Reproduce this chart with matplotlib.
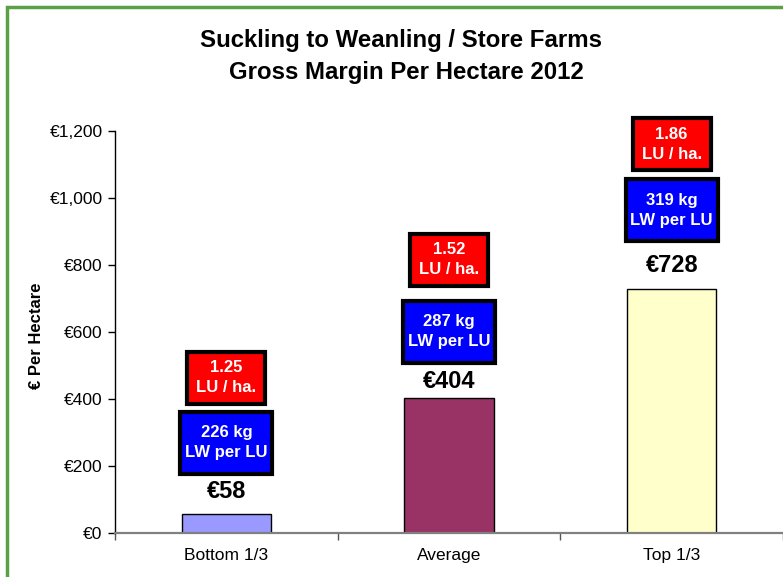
import matplotlib
matplotlib.use("Agg")
import matplotlib.pyplot as plt
from matplotlib.patches import Rectangle
from matplotlib.path import Path
from matplotlib.ticker import FuncFormatter

# chart values
groups = ["Bottom 1/3", "Average", "Top 1/3"]
gross_margin = [58, 404, 728]
lw_per_lu = [226, 287, 319]
lu_per_ha = [1.25, 1.52, 1.86]

bar_colors = ["#9999FF", "#993366", "#FFFFCC"]

# manual label offsets above each bar (pixels), like hand-placed text boxes
value_off = [22, 16, 24]
blue_off = [71, 66, 79]
red_off = [136, 138, 145]

plt.rcParams["font.family"] = ["Liberation Sans", "DejaVu Sans"]


def _euro(x, pos):
    return f"€{x:,.0f}"


def fixed_box(w, h):
    # text-box style of a fixed size (pixels), centred on the text
    def _style(x0, y0, width, height, mutation_size):
        cx, cy = x0 + width / 2, y0 + height / 2
        pts = [(cx - w / 2, cy - h / 2), (cx + w / 2, cy - h / 2),
               (cx + w / 2, cy + h / 2), (cx - w / 2, cy + h / 2),
               (cx - w / 2, cy - h / 2)]
        return Path(pts, closed=True)
    return _style


fig = plt.figure(figsize=(7.83, 5.77), dpi=100)
ax = fig.add_axes([115 / 783, 1 - 533 / 577, 1 - 115 / 783, (533 - 131) / 577])

xs = range(len(groups))
ax.bar(xs, gross_margin, width=0.4, color=bar_colors, edgecolor="black", linewidth=1)

ax.set_xlim(-0.5, 2.5)
ax.set_ylim(0, 1200)
ax.set_yticks(range(0, 1201, 200))
ax.yaxis.set_major_formatter(FuncFormatter(_euro))
ax.tick_params(axis="y", direction="out", length=5, width=1, labelsize=12.5, pad=4)

ax.set_xticks(list(xs))
ax.set_xticklabels(groups, fontsize=12.5)
ax.tick_params(axis="x", which="major", length=0, pad=11)
ax.set_xticks([-0.5, 0.5, 1.5, 2.5], minor=True)
ax.tick_params(axis="x", which="minor", direction="out", length=5, width=1, color="#555555")

for side in ["top", "right"]:
    ax.spines[side].set_visible(False)
ax.spines["left"].set_color("black")
ax.spines["left"].set_linewidth(1)
ax.spines["bottom"].set_color("#808080")
ax.spines["bottom"].set_linewidth(1.6)

ax.set_ylabel("€ Per Hectare", fontsize=12, fontweight="bold")
ax.yaxis.set_label_coords(-0.107, 0.49)

for i, v in enumerate(gross_margin):
    ax.annotate(f"€{v}", (i, v), xytext=(0, value_off[i]), textcoords="offset pixels",
                ha="center", va="center", fontsize=17, fontweight="bold")
    ax.annotate(f"{lw_per_lu[i]} kg\nLW per LU", (i, v), xytext=(0, blue_off[i]),
                textcoords="offset pixels", ha="center", va="center", fontsize=12,
                fontweight="bold", color="white", linespacing=1.4,
                bbox=dict(boxstyle=fixed_box(92, 62), fc="#0000FF", ec="black", lw=3))
    ax.annotate(f"{lu_per_ha[i]:.2f}\nLU / ha.", (i, v), xytext=(0, red_off[i]),
                textcoords="offset pixels", ha="center", va="center", fontsize=12,
                fontweight="bold", color="white", linespacing=1.4,
                bbox=dict(boxstyle=fixed_box(78, 52), fc="#FF0000", ec="black", lw=3))

fig.text(401 / 783, 1 - 40 / 577, "Suckling to Weanling / Store Farms", ha="center", va="center",
         fontsize=17.3, fontweight="bold")
fig.text(406 / 783, 1 - 72 / 577, "Gross Margin Per Hectare 2012", ha="center", va="center",
         fontsize=17.3, fontweight="bold")

# green frame, open on the right and bottom like the cropped original
fig.patches.append(Rectangle((6.5 / 783, -0.2), 1.2, 1.2 - 7.5 / 577,
                             transform=fig.transFigure, fill=False,
                             edgecolor="#5AA046", linewidth=2.5))

fig.savefig("out.png", dpi=100, facecolor="white")
